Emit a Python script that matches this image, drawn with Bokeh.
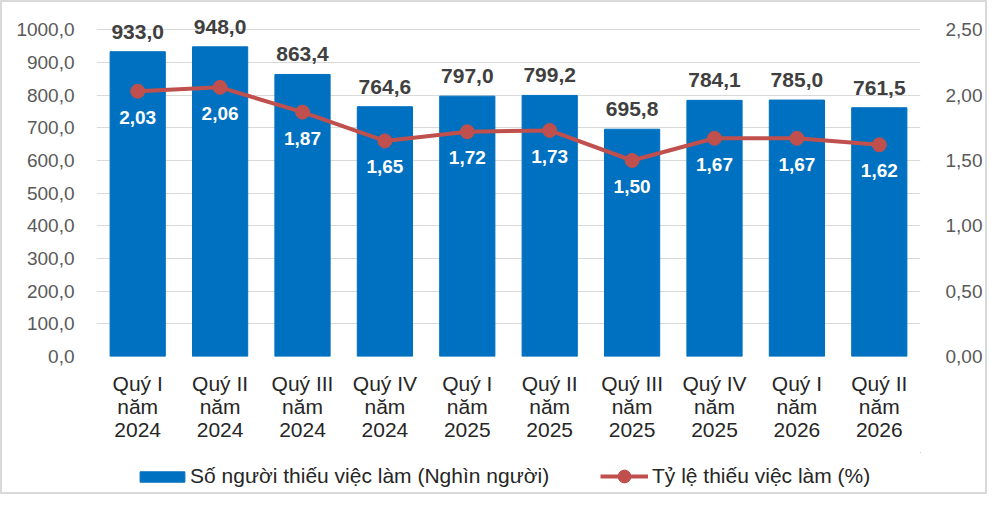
from bokeh.plotting import figure
from bokeh.layouts import column
from bokeh.models import Range1d, LinearAxis, FixedTicker, Legend, LegendItem
from bokeh.core.properties import value
from bokeh.embed import file_html
from bokeh.resources import INLINE

quarters = ["Quý I\nnăm\n2024", "Quý II\nnăm\n2024", "Quý III\nnăm\n2024", "Quý IV\nnăm\n2024",
            "Quý I\nnăm\n2025", "Quý II\nnăm\n2025", "Quý III\nnăm\n2025", "Quý IV\nnăm\n2025",
            "Quý I\nnăm\n2026", "Quý II\nnăm\n2026"]
counts = [933.0, 948.0, 863.4, 764.6, 797.0, 799.2, 695.8, 784.1, 785.0, 761.5]
rates = [2.03, 2.06, 1.87, 1.65, 1.72, 1.73, 1.50, 1.67, 1.67, 1.62]
left_ticks = [0, 100, 200, 300, 400, 500, 600, 700, 800, 900, 1000]
right_ticks = [0.0, 0.5, 1.0, 1.5, 2.0, 2.5]
series_names = ["Số người thiếu việc làm (Nghìn người)", "Tỷ lệ thiếu việc làm (%)"]

FONT = "Liberation Sans"
BAR_COLOR = "#0070C0"
LINE_COLOR = "#C0504D"

x = list(range(len(quarters)))

p = figure(width=983, height=450, x_range=Range1d(-0.5, 9.5), y_range=Range1d(0, 1050),
           output_backend="svg", toolbar_location=None,
           min_border_left=94, min_border_right=57, min_border_top=11, min_border_bottom=96)
p.extra_y_ranges = {"rate": Range1d(0, 2.625)}
p.outline_line_color = None
p.background_fill_color = "white"
p.border_fill_color = "white"

# Grid
p.xgrid.grid_line_color = None
p.ygrid.ticker = FixedTicker(ticks=left_ticks)
p.ygrid.grid_line_color = "#d9d9d9"
p.ygrid.grid_line_width = 1

# Left axis
ya = p.yaxis[0]
ya.ticker = FixedTicker(ticks=left_ticks)
ya.major_label_overrides = {t: f"{t:.1f}".replace(".", ",") for t in left_ticks}
ya.axis_line_color = None
ya.major_tick_line_color = None
ya.minor_tick_line_color = None
ya.major_label_text_font = FONT
ya.major_label_text_font_size = "19px"
ya.major_label_text_color = "#595959"
ya.major_label_standoff = 16

# Right axis
ra = LinearAxis(y_range_name="rate", ticker=FixedTicker(ticks=right_ticks))
ra.major_label_overrides = {t: f"{t:.2f}".replace(".", ",") for t in right_ticks}
ra.axis_line_color = None
ra.major_tick_line_color = None
ra.minor_tick_line_color = None
ra.major_label_text_font = FONT
ra.major_label_text_font_size = "19px"
ra.major_label_text_color = "#595959"
ra.major_label_standoff = 19
p.add_layout(ra, "right")

# X axis
xa = p.xaxis[0]
xa.ticker = FixedTicker(ticks=x)
xa.major_label_overrides = {i: q for i, q in enumerate(quarters)}
xa.axis_line_color = None
xa.major_tick_line_color = None
xa.minor_tick_line_color = None
xa.major_label_text_font = FONT
xa.major_label_text_font_size = "21px"
xa.major_label_text_color = "#262626"
xa.major_label_text_line_height = 1.0
xa.major_label_standoff = 9

p.vbar(x=x, top=counts, width=0.67, fill_color=BAR_COLOR, line_color=BAR_COLOR)
p.line(x, rates, y_range_name="rate", line_color=LINE_COLOR, line_width=4)
p.scatter(x, rates, y_range_name="rate", size=14, fill_color=LINE_COLOR, line_color=LINE_COLOR)

p.text(x=x, y=counts, text=[f"{c:.1f}".replace(".", ",") for c in counts],
       text_align="center", text_baseline="alphabetic", y_offset=-20,
       text_font=value(FONT), text_font_style="bold", text_font_size="21px", text_color="#404040")
p.text(x=x, y=rates, y_range_name="rate", text=[f"{r:.2f}".replace(".", ",") for r in rates],
       text_align="center", text_baseline="middle", y_offset=26,
       text_font=value(FONT), text_font_style="bold", text_font_size="19px", text_color="white")

# Legend strip (separate figure so the legend sits below the category labels)
lg = figure(width=983, height=40, x_range=Range1d(0, 1), y_range=Range1d(0, 1),
            x_axis_type=None, y_axis_type=None, output_backend="svg", toolbar_location=None,
            min_border=0)
lg.outline_line_color = None
lg.grid.visible = False
lg.background_fill_color = "white"
lg.border_fill_color = "white"

# proxies placed outside the visible range: only their legend glyphs show
bar_proxy = lg.vbar(x=[10], top=[10], bottom=[9], width=0.5, fill_color=BAR_COLOR, line_color=BAR_COLOR)
line_proxy = lg.line(x=[10, 11], y=[10, 10], line_color=LINE_COLOR, line_width=4)
dot_proxy = lg.scatter(x=[10], y=[10], size=14, fill_color=LINE_COLOR, line_color=LINE_COLOR)

common = dict(orientation="horizontal", padding=0, margin=0,
              border_line_color=None, background_fill_alpha=0,
              label_text_font=FONT, label_text_font_size="21px", label_text_color="#262626")
leg1 = Legend(items=[LegendItem(label=series_names[0], renderers=[bar_proxy])],
              location=(38, 4), glyph_width=56, glyph_height=13, label_standoff=0, **common)
leg2 = Legend(items=[LegendItem(label=series_names[1], renderers=[line_proxy, dot_proxy])],
              location=(504, 0), glyph_width=48, glyph_height=32, label_standoff=4, **common)
lg.add_layout(leg1)
lg.add_layout(leg2)

layout = column(p, lg, spacing=0, styles={"border": "2px solid #d9d9d9", "background": "white"})

open("out.html", "w").write(file_html(layout, INLINE))
